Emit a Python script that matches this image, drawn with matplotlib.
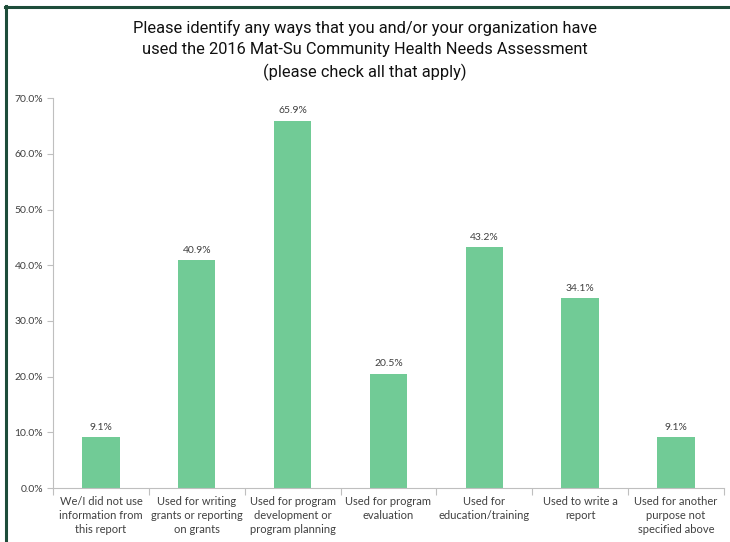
import matplotlib.pyplot as plt
from matplotlib.lines import Line2D
from matplotlib.ticker import PercentFormatter, FixedLocator, NullFormatter

categories = ['We/I did not use\ninformation from\nthis report',
              'Used for writing\ngrants or reporting\non grants',
              'Used for program\ndevelopment or\nprogram planning',
              'Used for program\nevaluation',
              'Used for\neducation/training',
              'Used to write a\nreport',
              'Used for another\npurpose not\nspecified above']
values = [9.1, 40.9, 65.9, 20.5, 43.2, 34.1, 9.1]
title = ('Please identify any ways that you and/or your organization have\n'
         'used the 2016 Mat-Su Community Health Needs Assessment\n'
         '(please check all that apply)')

bar_color = '#71CB96'
text_color = '#404040'
axis_color = '#BFBFBF'

fig = plt.figure(figsize=(7.3, 5.42), dpi=100)
ax = fig.add_axes([0.0726, 0.0996, 0.919, 0.7194])

x = range(len(categories))
ax.bar(x, values, width=0.39, color=bar_color)
for xi, v in zip(x, values):
    ax.text(xi, v + 1.0, f'{v:.1f}%', ha='center', va='bottom',
            fontsize=7.5, color=text_color, family='Lato')

ax.set_xlim(-0.5, len(categories) - 0.5)
ax.set_ylim(0, 70)
ax.set_yticks(range(0, 71, 10))
ax.yaxis.set_major_formatter(PercentFormatter(decimals=1))

# ticks between categories, labels centered under bars
ax.xaxis.set_major_locator(FixedLocator([i + 0.5 for i in range(-1, len(categories))]))
ax.xaxis.set_major_formatter(NullFormatter())
ax.xaxis.set_minor_locator(FixedLocator(list(x)))
ax.set_xticklabels(categories, minor=True)
ax.tick_params(axis='x', which='minor', length=0, pad=6)
ax.tick_params(axis='x', which='major', length=5, color=axis_color)
ax.tick_params(axis='y', length=4, color=axis_color, labelsize=7.5, labelcolor=text_color, pad=3)
for lbl in ax.get_xticklabels(minor=True):
    lbl.set_fontsize(8)
    lbl.set_color(text_color)
    lbl.set_family('Lato')
    lbl.set_linespacing(1.3)
for lbl in ax.get_yticklabels():
    lbl.set_family('Lato')

ax.spines['top'].set_visible(False)
ax.spines['right'].set_visible(False)
ax.spines['left'].set_color(axis_color)
ax.spines['bottom'].set_color(axis_color)

fig.text(0.5, 0.964, title, ha='center', va='top', fontsize=11.8,
         family='Roboto', linespacing=1.5, color='#111111')

# dark green frame on left and top
fig.add_artist(Line2D([0.008, 0.008], [0, 0.989], color='#1E4D3A', lw=2.2, transform=fig.transFigure))
fig.add_artist(Line2D([0.007, 1.0], [0.988, 0.988], color='#1E4D3A', lw=2.2, transform=fig.transFigure))

fig.savefig('out.png', dpi=100)
